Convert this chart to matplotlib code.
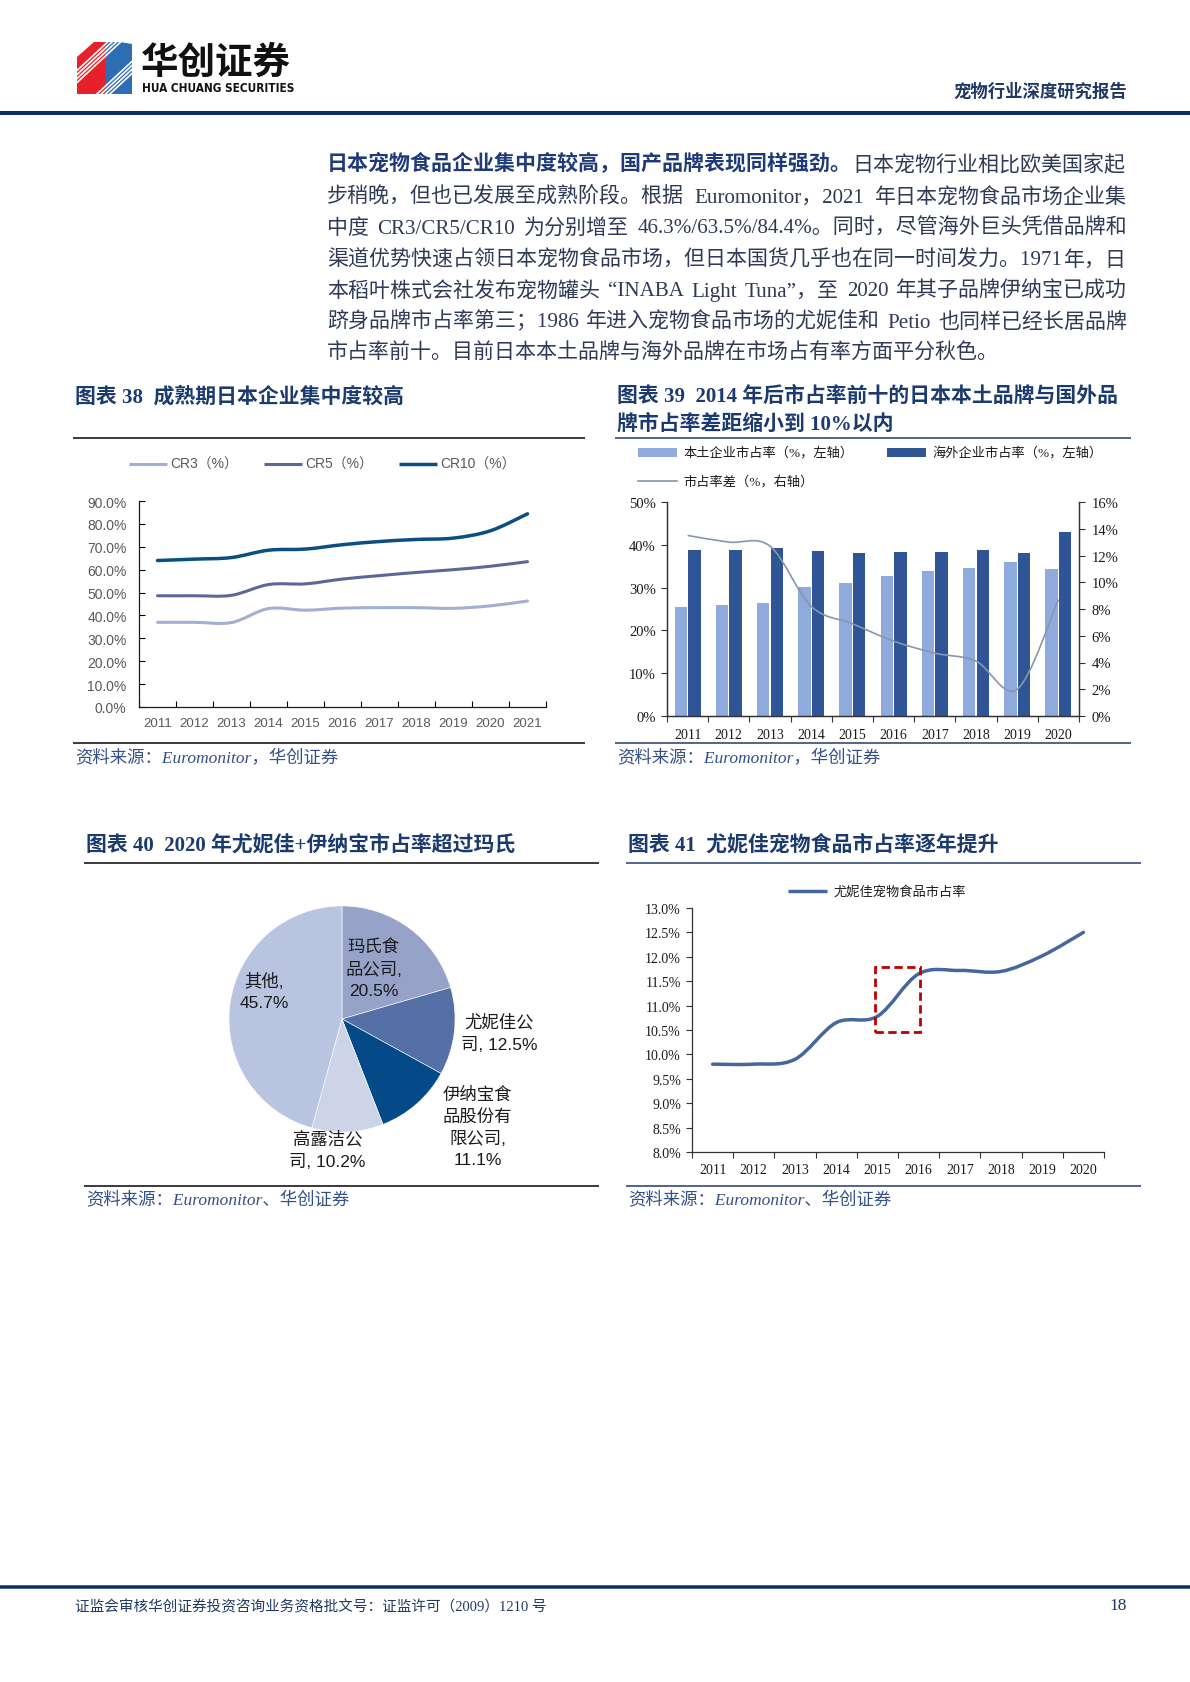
import numpy as np
import matplotlib
matplotlib.use('Agg')
import matplotlib.pyplot as plt
from matplotlib.path import Path
from matplotlib.patches import PathPatch, Rectangle, Polygon
from matplotlib.ticker import FixedLocator

W, H = 1190, 1683
CJK = 'Noto Sans CJK SC'
SERIF = ['Liberation Serif', CJK, 'DejaVu Sans']
SANS = ['Liberation Sans', CJK, 'DejaVu Sans']
plt.rcParams['font.family'] = [CJK, 'DejaVu Sans']
plt.rcParams['axes.unicode_minus'] = False

NAVY = '#0B2F5E'
TITLE_C = '#1B3A6E'
TEXT_C = '#2E3A56'
SRC_C = '#34508A'

# ---------------- data ----------------
years_38 = ['2011', '2012', '2013', '2014', '2015', '2016', '2017', '2018', '2019', '2020', '2021']
cr3 = [37.0, 37.0, 36.9, 43.0, 42.3, 43.2, 43.4, 43.4, 43.1, 44.2, 46.3]
cr5 = [48.6, 48.6, 48.8, 53.5, 53.8, 55.9, 57.4, 58.8, 60.0, 61.5, 63.5]
cr10 = [64.0, 64.6, 65.3, 68.5, 69.0, 70.9, 72.3, 73.2, 73.8, 77.0, 84.4]
names_38 = ['CR3（%）', 'CR5（%）', 'CR10（%）']

years_39 = ['2011', '2012', '2013', '2014', '2015', '2016', '2017', '2018', '2019', '2020']
domestic_share = [25.4, 25.9, 26.5, 30.1, 31.1, 32.6, 33.8, 34.5, 35.9, 34.4]
foreign_share = [38.9, 38.9, 39.2, 38.5, 38.0, 38.3, 38.4, 38.7, 38.0, 43.1]
share_gap = [13.5, 13.0, 12.7, 8.2, 6.9, 5.6, 4.7, 4.1, 2.0, 8.7]
names_39 = ['本土企业市占率（%，左轴）', '海外企业市占率（%，左轴）', '市占率差（%，右轴）']

pie_names = ['玛氏食\n品公司,', '尤妮佳公\n司,', '伊纳宝食\n品股份有\n限公司,', '高露洁公\n司,', '其他,']
pie_values = [20.5, 12.5, 11.1, 10.2, 45.7]
pie_sep = ['\n', ' ', '\n', ' ', '\n']

years_41 = ['2011', '2012', '2013', '2014', '2015', '2016', '2017', '2018', '2019', '2020']
unicharm_share = [9.8, 9.8, 9.9, 10.65, 10.78, 11.65, 11.72, 11.70, 12.02, 12.5]
name_41 = '尤妮佳宠物食品市占率'

para_bold = '日本宠物食品企业集中度较高，国产品牌表现同样强劲。'
para_lines = [
    '日本宠物行业相比欧美国家起',
    '步稍晚，但也已发展至成熟阶段。根据 Euromonitor，2021 年日本宠物食品市场企业集',
    '中度 CR3/CR5/CR10 为分别增至 46.3%/63.5%/84.4%。同时，尽管海外巨头凭借品牌和',
    '渠道优势快速占领日本宠物食品市场，但日本国货几乎也在同一时间发力。1971 年，日',
    '本稻叶株式会社发布宠物罐头 “INABA Light Tuna”，至 2020 年其子品牌伊纳宝已成功',
    '跻身品牌市占率第三；1986 年进入宠物食品市场的尤妮佳和 Petio 也同样已经长居品牌',
    '市占率前十。目前日本本土品牌与海外品牌在市场占有率方面平分秋色。',
]

# ---------------- figure ----------------
fig = plt.figure(figsize=(W / 100, H / 100), dpi=100)
bg = fig.add_axes([0, 0, 1, 1], zorder=0)
bg.set_xlim(0, W)
bg.set_ylim(H, 0)
bg.axis('off')
renderer = fig.canvas.get_renderer()


def add_ax(l, t, w, h):
    ax = fig.add_axes([l / W, 1 - (t + h) / H, w / W, h / H], zorder=2)
    ax.patch.set_alpha(0)
    return ax


def hline(x0, x1, y, color, lwpx):
    bg.plot([x0, x1], [y, y], color=color, lw=lwpx * 0.72, solid_capstyle='butt')


def twidth(t):
    return t.get_window_extent(renderer=renderer).width


def smooth_path(xs, ys):
    pts = np.column_stack([xs, ys]).astype(float)
    n = len(pts)
    verts = [pts[0]]
    codes = [Path.MOVETO]
    for i in range(n - 1):
        p0 = pts[i - 1] if i > 0 else pts[i]
        p1 = pts[i]
        p2 = pts[i + 1]
        p3 = pts[i + 2] if i + 2 < n else pts[i + 1]
        verts += [p1 + (p2 - p0) / 6.0, p2 - (p3 - p1) / 6.0, p2]
        codes += [Path.CURVE4] * 3
    return Path(verts, codes)


# ---------------- header ----------------
red_poly = Polygon([(77, 58), (94, 43), (105, 43), (105, 95), (77, 95)], closed=True,
                   facecolor='#E8202A', edgecolor='none')
blue_poly = Polygon([(105, 43), (132, 43), (132, 95), (105, 95)], closed=True,
                    facecolor='#2E6DB4', edgecolor='none')
bg.add_patch(red_poly)
bg.add_patch(blue_poly)
clip_rect = Rectangle((77, 43), 55, 52, transform=bg.transData)
for k in range(4):
    o = 4 * k
    ln, = bg.plot([70, 140], [58 + o + 20, 58 + o - 45], color='white', lw=1.2)
    ln.set_clip_path(clip_rect)
    ln2, = bg.plot([70, 140], [120 + o, 120 + o - 65], color='white', lw=1.2)
    ln2.set_clip_path(clip_rect)
bg.add_patch(Polygon([(120, 43), (132, 43), (132, 45)], closed=True, facecolor='white', edgecolor='none'))

t_logo = bg.text(141, 62, '华创证券', fontsize=27, fontweight='heavy', color='#111111',
                 family=[CJK], va='center', ha='left')
t_en = bg.text(142, 89, 'HUA CHUANG SECURITIES', fontsize=10, fontweight='bold', color='#111111',
               family=['DejaVu Sans'], fontstretch='condensed', va='center', ha='left')
w_en = twidth(t_en)
t_en.set_fontsize(10 * 152 / w_en)

bg.text(1127, 92, '宠物行业深度研究报告', fontsize=12.5, fontweight='bold', color='#1F3864',
        family=[CJK], va='center', ha='right')
hline(0, W, 114, NAVY, 4)

# ---------------- paragraph ----------------
PX0, PX1 = 327, 1127
line_y = [164, 196, 227, 259, 290, 321, 352]
fs_p = 15.1
base_off = 6.5
tb = bg.text(PX0, line_y[0] + base_off, para_bold, fontsize=fs_p, fontweight='bold',
             color='#1F3A78', family=SERIF, va='baseline', ha='left')
wb = twidth(tb)
bg.text(PX0 + wb, line_y[0] + base_off, para_lines[0], fontsize=fs_p, color=TEXT_C,
        family=SERIF, va='baseline', ha='left')
for i in range(1, len(para_lines)):
    y = line_y[i] + base_off
    if i == len(para_lines) - 1:
        bg.text(PX0, y, para_lines[i], fontsize=fs_p, color=TEXT_C, family=SERIF,
                va='baseline', ha='left')
        continue
    segs = para_lines[i].split(' ')
    ts = [bg.text(0, y, s, fontsize=fs_p, color=TEXT_C, family=SERIF, va='baseline', ha='left')
          for s in segs]
    ws = [twidth(t) for t in ts]
    gap = (PX1 - PX0 - sum(ws)) / max(len(segs) - 1, 1)
    x = PX0
    for t, w in zip(ts, ws):
        t.set_x(x)
        x += w + gap

# ---------------- titles / rules / sources ----------------
def title(x, y, s):
    bg.text(x, y, s, fontsize=15, fontweight='bold', color=TITLE_C, family=SERIF,
            va='center', ha='left')


def source(x, y, s):
    bg.text(x, y, s, fontsize=12.5, fontstyle='italic', color=SRC_C, family=SERIF,
            va='center', ha='left')


title(75, 397, '图表 38  成熟期日本企业集中度较高')
title(617, 397, '图表 39  2014 年后市占率前十的日本本土品牌与国外品')
title(617, 425, '牌市占率差距缩小到 10%以内')
title(86, 845, '图表 40  2020 年尤妮佳+伊纳宝市占率超过玛氏')
title(628, 845, '图表 41  尤妮佳宠物食品市占率逐年提升')

hline(73, 585, 439, '#000000', 1.5)
hline(615, 1131, 439, '#1F3864', 1.5)
hline(73, 585, 744, '#000000', 1.5)
hline(615, 1131, 744, '#1F3864', 1.5)
hline(84, 599, 864, '#000000', 1.5)
hline(626, 1141, 864, '#1F3864', 1.5)
hline(84, 599, 1187, '#000000', 1.5)
hline(626, 1141, 1187, '#1F3864', 1.5)

source(75, 759, '资料来源：Euromonitor，华创证券')
source(617, 759, '资料来源：Euromonitor，华创证券')
source(86, 1200, '资料来源：Euromonitor、华创证券')
source(628, 1200, '资料来源：Euromonitor、华创证券')

# ---------------- chart 38 ----------------
c38 = ['#A3AED2', '#5A6799', '#0B4F80']
lw38 = [2.2, 2.2, 2.5]
ax1 = add_ax(139, 502, 407, 206)
x38 = np.arange(len(years_38))
for ys, c, lw in zip([cr3, cr5, cr10], c38, lw38):
    ax1.add_patch(PathPatch(smooth_path(x38, ys), fill=False, edgecolor=c, lw=lw, capstyle='round'))
ax1.set_xlim(-0.5, len(years_38) - 0.5)
ax1.set_ylim(0, 90)
ax1.set_xticks(x38)
ax1.set_xticklabels(years_38)
ax1.xaxis.set_minor_locator(FixedLocator(np.arange(-0.5, len(years_38), 1.0)))
ax1.tick_params(axis='x', which='major', length=0, pad=7, labelsize=9.5, labelcolor='#595959')
ax1.tick_params(axis='x', which='minor', length=4, direction='in', width=0.8, color='#000000')
yt38 = np.arange(0, 91, 10)
ax1.set_yticks(yt38)
ax1.set_yticklabels([f'{v:.1f}%' for v in yt38])
ax1.tick_params(axis='y', length=4, direction='in', width=0.8, pad=9, labelsize=10, labelcolor='#595959')
for lab in ax1.get_xticklabels() + ax1.get_yticklabels():
    lab.set_family(SANS)
for s in ['top', 'right']:
    ax1.spines[s].set_visible(False)
for s in ['left', 'bottom']:
    ax1.spines[s].set_linewidth(0.9)
    ax1.spines[s].set_color('#1a1a1a')
leg_x = [129, 264, 399]
for xx, c, lw, nm in zip(leg_x, c38, lw38, names_38):
    bg.plot([xx, xx + 38], [465, 465], color=c, lw=lw, solid_capstyle='butt')
    bg.text(xx + 41, 465, nm, fontsize=10, color='#595959', family=SANS, va='center', ha='left')

# ---------------- chart 39 ----------------
ax2 = add_ax(667, 503, 412, 214)
x39 = np.arange(len(years_39))
bw = 0.3
ax2.bar(x39 - 0.165, domestic_share, width=bw, color='#8FAADC', zorder=2)
ax2.bar(x39 + 0.165, foreign_share, width=bw, color='#2F5597', zorder=2)
ax2.set_xlim(-0.5, len(years_39) - 0.5)
ax2.set_ylim(0, 50)
ax2.set_xticks(x39)
ax2.set_xticklabels(years_39)
ax2.xaxis.set_minor_locator(FixedLocator(np.arange(-0.5, len(years_39), 1.0)))
ax2.tick_params(axis='x', which='major', length=0, pad=9, labelsize=10, labelcolor='#1a1a1a')
ax2.tick_params(axis='x', which='minor', length=4, direction='out', width=0.8, color='#333333')
yt39 = np.arange(0, 51, 10)
ax2.set_yticks(yt39)
ax2.set_yticklabels([f'{v:d}%' for v in yt39])
ax2.tick_params(axis='y', length=4, direction='out', width=0.8, pad=4, labelsize=10.5,
                labelcolor='#1a1a1a', color='#333333')
ax2b = ax2.twinx()
ax2b.patch.set_alpha(0)
ax2b.add_patch(PathPatch(smooth_path(x39, share_gap), fill=False, edgecolor='#8796AE', lw=1.2))
ax2b.set_ylim(0, 16)
yt39b = np.arange(0, 17, 2)
ax2b.set_yticks(yt39b)
ax2b.set_yticklabels([f'{v:d}%' for v in yt39b])
ax2b.tick_params(axis='y', length=4, direction='out', width=0.8, pad=5, labelsize=10.5,
                 labelcolor='#1a1a1a', color='#333333')
for lab in ax2.get_xticklabels() + ax2.get_yticklabels() + ax2b.get_yticklabels():
    lab.set_family(SERIF)
for a in (ax2, ax2b):
    a.spines['top'].set_visible(False)
    for s in ['left', 'bottom', 'right']:
        a.spines[s].set_linewidth(0.9)
        a.spines[s].set_color('#333333')
bg.add_patch(Rectangle((638, 449), 39, 9, facecolor='#8FAADC', edgecolor='none'))
bg.text(683, 453, names_39[0], fontsize=9.5, color='#1a1a1a', family=SERIF, va='center', ha='left')
bg.add_patch(Rectangle((887, 449), 39, 9, facecolor='#2F5597', edgecolor='none'))
bg.text(932, 453, names_39[1], fontsize=9.5, color='#1a1a1a', family=SERIF, va='center', ha='left')
bg.plot([638, 677], [482, 482], color='#8796AE', lw=1.2)
bg.text(683, 482, names_39[2], fontsize=9.5, color='#1a1a1a', family=SERIF, va='center', ha='left')

# ---------------- chart 40 (pie) ----------------
pax = add_ax(342 - 130, 1020 - 130, 260, 260)
pie_colors = ['#97A2C8', '#5570A6', '#044A88', '#CDD4E7', '#B9C4E0']
pax.pie(pie_values, colors=pie_colors, startangle=90, counterclock=False, radius=1.0,
        wedgeprops=dict(edgecolor='white', linewidth=0.4))
pax.set_xlim(-1.15, 1.15)
pax.set_ylim(-1.15, 1.15)
pax.set_aspect('equal')
pax.axis('off')
label_pos = [(0.28, 0.45), (1.39, -0.12), (1.20, -0.95), (-0.13, -1.15), (-0.69, 0.25)]
for nm, v, sp, (lx, ly) in zip(pie_names, pie_values, pie_sep, label_pos):
    pax.text(lx, ly, f'{nm}{sp}{v:.1f}%', fontsize=12.5, color='#1a1a1a', family=SANS,
             ha='center', va='center', multialignment='center', linespacing=1.5)

# ---------------- chart 41 ----------------
ax4 = add_ax(692, 909, 412, 244)
x41 = np.arange(len(years_41))
ax4.add_patch(PathPatch(smooth_path(x41, unicharm_share), fill=False, edgecolor='#45679E',
                        lw=2.5, capstyle='round'))
ax4.add_patch(Rectangle((3.94, 10.46), 1.10, 1.33, fill=False, edgecolor='#C00000', lw=2.0,
                        linestyle=(0, (3, 1.6)), zorder=3))
ax4.set_xlim(-0.5, len(years_41) - 0.5)
ax4.set_ylim(8, 13)
ax4.set_xticks(x41)
ax4.set_xticklabels(years_41)
ax4.xaxis.set_minor_locator(FixedLocator(np.arange(-0.5, len(years_41), 1.0)))
ax4.tick_params(axis='x', which='major', length=0, pad=8, labelsize=10, labelcolor='#1a1a1a')
ax4.tick_params(axis='x', which='minor', length=4, direction='out', width=0.8, color='#333333')
yt41 = np.arange(8.0, 13.01, 0.5)
ax4.set_yticks(yt41)
ax4.set_yticklabels([f'{v:.1f}%' for v in yt41])
ax4.tick_params(axis='y', length=4, direction='out', width=0.8, pad=4, labelsize=10,
                labelcolor='#1a1a1a', color='#333333')
for lab in ax4.get_xticklabels() + ax4.get_yticklabels():
    lab.set_family(SERIF)
for s in ['top', 'right']:
    ax4.spines[s].set_visible(False)
for s in ['left', 'bottom']:
    ax4.spines[s].set_linewidth(0.9)
    ax4.spines[s].set_color('#333333')
bg.plot([788, 827], [892, 892], color='#45679E', lw=2.5, solid_capstyle='butt')
bg.text(834, 892, name_41, fontsize=9.5, color='#1a1a1a', family=SERIF, va='center', ha='left')

# ---------------- footer ----------------
hline(0, W, 1588, NAVY, 3.5)
bg.text(75, 1607, '证监会审核华创证券投资咨询业务资格批文号：证监许可（2009）1210 号', fontsize=10.5,
        color='#1F3864', family=SERIF, va='center', ha='left')
bg.text(1127, 1606, '18', fontsize=12.5, color='#1F3864', family=SERIF, va='center', ha='right')

fig.savefig('out.png', dpi=100)
